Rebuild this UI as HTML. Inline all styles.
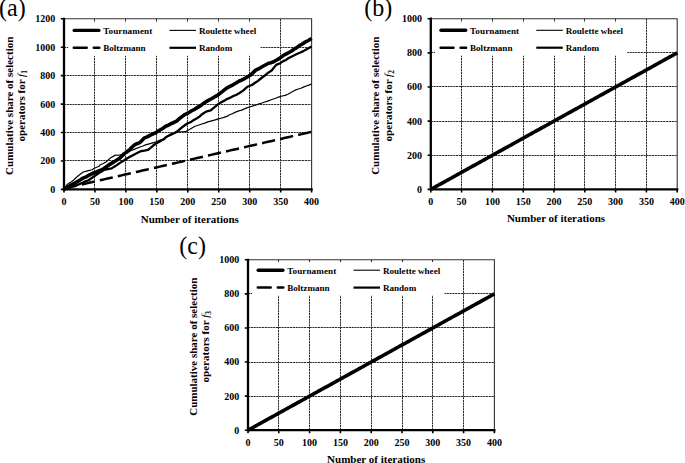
<!DOCTYPE html>
<html><head><meta charset="utf-8"><style>html,body{margin:0;padding:0;background:#fff;}svg{display:block;}</style></head>
<body><svg width="685" height="463" viewBox="0 0 685 463" font-family='"Liberation Serif", serif'><rect width="685" height="463" fill="#fff"/><path d="M94.5 18.8V189.4M125.5 18.8V189.4M156.5 18.8V189.4M187.5 18.8V189.4M218.5 18.8V189.4M249.5 18.8V189.4M280.5 18.8V189.4M64 160.5H311.6M64 132.5H311.6M64 104.5H311.6M64 75.5H311.6M64 47.5H311.6" stroke="#2b2b2b" stroke-width="1" stroke-dasharray="2.2 0.6" fill="none"/><rect x="68.2" y="22.3" width="192.3" height="33.5" fill="#fff"/><path d="M64 18.8H311.6V189.4" stroke="#333" stroke-width="1.1" fill="none"/><polyline points="64 189.4 67.71 187.69 70.2 187.12 72.69 186.55 75.18 185.98 77.67 185.41 80.16 184.84 82.65 184.27 85.13 183.7 87.62 183.13 90.11 182.56 92.6 181.99 95.09 181.42 97.58 180.85 100.07 180.28 102.55 179.71 105.04 179.14 107.53 178.57 110.02 178 112.51 177.43 115 176.86 117.49 176.29 119.98 175.72 122.46 175.15 124.95 174.58 127.44 174.01 129.93 173.44 132.42 172.87 134.91 172.3 137.4 171.73 139.88 171.16 142.37 170.59 144.86 170.02 147.35 169.45 149.84 168.88 152.33 168.31 154.82 167.74 157.3 167.17 159.79 166.6 162.28 166.03 164.77 165.46 167.26 164.89 169.75 164.32 172.24 163.75 174.73 163.18 177.21 162.61 179.7 162.04 182.19 161.47 184.68 160.9 187.17 160.33 189.66 159.76 192.15 159.19 194.63 158.62 197.12 158.05 199.61 157.48 202.1 156.91 204.59 156.34 207.08 155.77 209.57 155.2 212.05 154.63 214.54 154.06 217.03 153.49 219.52 152.92 222.01 152.35 224.5 151.78 226.99 151.21 229.48 150.64 231.96 150.07 234.45 149.5 236.94 148.93 239.43 148.36 241.92 147.79 244.41 147.22 246.9 146.65 249.38 146.08 251.87 145.51 254.36 144.94 256.85 144.37 259.34 143.79 261.83 143.22 264.32 142.65 266.8 142.08 269.29 141.51 271.78 140.94 274.27 140.37 276.76 139.8 279.25 139.23 281.74 138.66 284.23 138.09 286.71 137.52 289.2 136.95 291.69 136.38 294.18 135.81 296.67 135.24 299.16 134.67 301.65 134.1 304.13 133.53 306.62 132.96 309.11 132.39 311.6 131.82" stroke="#000" stroke-width="2.5" fill="none" stroke-linejoin="round" stroke-dasharray="13.3 5.2"/><polyline points="64 189.4 67.09 184.53 70.22 182.61 73.35 180.31 75.98 177.71 78.61 175.49 83.25 171.97 85.88 171.34 88.51 170.68 92.04 169.75 94.39 168.25 99.04 166.32 100.27 164.7 102.9 163.73 105.53 162.21 108.2 159.97 110.86 157.65 115.38 155.14 117.95 155.25 120.51 154.97 125.28 153.2 128.44 151.56 131.59 150.18 134.39 149.36 137.19 148.07 139.99 146.97 142.79 146.05 145.58 144.84 148.29 144.13 151 143.44 153.71 142.67 156.42 141.74 158.95 140.64 161.49 139.53 164.03 138.56 166.54 137.21 169.06 135.81 171.57 134.95 174.08 133.54 176.6 132.32 179.86 131.73 183.12 131.77 186.38 131.33 190.71 128.82 194.98 126.22 198.88 125.04 201.84 124.04 204.79 123.16 207.75 121.91 210.7 121.13 214.29 120.17 217.88 119.11 220.9 118.27 223.91 117.43 226.92 116.43 229.03 114.96 232.29 113.69 235.55 112.09 238.81 110.88 241.64 110.09 244.47 108.83 247.3 107.65 250.13 106.77 253.1 105.91 256.08 104.96 259.05 103.88 262.02 102.97 264.85 102.01 267.69 101.15 270.52 100.03 273.36 98.97 276.19 98.02 279.21 96.88 282.22 95.98 285.23 95.4 287.88 94.22 290.52 92.7 293.17 91.27 295.82 89.83 298.35 88.99 300.89 88.22 303.43 87.1 306.15 85.98 308.88 85.13 311.6 83.94" stroke="#000" stroke-width="1.2" fill="none" stroke-linejoin="round"/><polyline points="64 189.4 66.48 188.78 68.95 187.92 71.43 186.62 74.11 185.69 76.79 185.11 79.47 184.12 82.49 182.81 85.5 181.35 88.51 180.23 93.22 177.01 96.68 174.67 100.34 172.14 103.99 169.96 106.53 169.32 109.06 168.86 111.6 168.38 115.38 166.11 120.02 162.87 123.11 160.98 126.21 159.06 129.08 157.31 131.95 155.68 134.81 154.27 138.06 152.59 141.31 151.01 144.56 150.72 147.81 149.99 150.51 147.85 153.2 145.54 156.42 143.24 158.95 141.96 161.49 140.43 164.03 139.18 165.76 137.37 168.47 135.86 171.18 134.27 173.89 133.27 176.6 131.87 179.85 129.13 183.1 126.51 187.3 123.5 190.71 122.13 193.43 120.2 196.16 118.8 198.88 117.08 202.44 113.98 206 111.58 210.7 110.46 214.29 107.34 217.88 104.37 221.97 101.85 224.44 100.66 226.92 99.04 229.95 97.81 232.99 96.17 236.02 95.04 239.55 92.94 243.08 90.62 247.29 86.78 251.5 85.25 254.74 83.08 257.99 80.89 260.51 78.75 263.03 76.78 265.55 74.96 268.58 72.41 271.61 70.51 276.19 64.89 280.71 62.94 283.25 61.12 285.79 59.93 288.33 58.28 291.34 56.67 294.35 55.16 297.36 53.71 300.4 52.47 303.43 51.12 306.15 49.5 308.88 48.09 311.6 46.52" stroke="#000" stroke-width="2.3" fill="none" stroke-linejoin="round"/><polyline points="64 189.4 66.48 187.71 68.95 186.29 72.33 184.33 75.7 182.57 78.31 181.12 80.93 179.38 83.54 177.89 86.16 176.84 89.69 174.8 93.22 173.03 95.94 172.29 98.66 170.9 101.33 169.87 103.99 168.48 107.83 165.59 111.04 163.64 115.38 161.03 119.71 158.31 124.04 153.87 126.7 152.04 129.37 150.06 132.09 147.06 134.81 144.7 137.51 143.52 140.2 142.27 144.53 137.84 147.22 136.91 149.92 135.36 153.17 133.88 156.42 132.35 159.53 130.32 162.65 128.47 165.76 126.25 168.47 125.11 171.18 123.58 173.89 122.47 176.6 121.09 179.48 118.54 182.37 116.4 185.26 114.28 188.5 112.85 191.74 110.78 194.98 109.07 198.88 106.64 201.85 104.65 204.82 102.49 208.35 100.42 211.88 98.48 214.88 96.69 217.88 95.05 222.59 91.44 226.92 87.95 229.95 86.31 232.99 84.78 236.02 83.02 238.84 81.22 241.67 80.04 244.49 78.55 247.31 76.98 250.13 75.27 252.92 72.87 255.7 70.13 258.86 68.67 262.02 66.76 265.3 65 268.58 63.28 271.12 62.66 273.66 61.71 276.19 60.25 278.69 58.95 281.19 57.09 283.68 55.3 286.33 53.81 288.98 52.49 291.62 50.97 294.27 49 296.81 47.57 299.34 45.58 301.88 44.21 305.12 42.13 308.36 40.51 311.6 38.42" stroke="#000" stroke-width="3.6" fill="none" stroke-linejoin="round"/><path d="M64 18.8V189.4H311.6" stroke="#000" stroke-width="2.3" fill="none" stroke-linecap="square"/><path d="M60.8 189.4H64M60.8 160.97H64M60.8 132.53H64M60.8 104.1H64M60.8 75.67H64M60.8 47.23H64M60.8 18.8H64M64 189.4V192.4M94.95 189.4V192.4M125.9 189.4V192.4M156.85 189.4V192.4M187.8 189.4V192.4M218.75 189.4V192.4M249.7 189.4V192.4M280.65 189.4V192.4M311.6 189.4V192.4" stroke="#000" stroke-width="1.6" fill="none"/><text x="55.2" y="192.8" text-anchor="end" font-size="10" font-weight="bold">0</text><text x="55.2" y="164.37" text-anchor="end" font-size="10" font-weight="bold">200</text><text x="55.2" y="135.93" text-anchor="end" font-size="10" font-weight="bold">400</text><text x="55.2" y="107.5" text-anchor="end" font-size="10" font-weight="bold">600</text><text x="55.2" y="79.07" text-anchor="end" font-size="10" font-weight="bold">800</text><text x="55.2" y="50.63" text-anchor="end" font-size="10" font-weight="bold">1000</text><text x="55.2" y="22.2" text-anchor="end" font-size="10" font-weight="bold">1200</text><text x="64" y="204.8" text-anchor="middle" font-size="10" font-weight="bold">0</text><text x="94.95" y="204.8" text-anchor="middle" font-size="10" font-weight="bold">50</text><text x="125.9" y="204.8" text-anchor="middle" font-size="10" font-weight="bold">100</text><text x="156.85" y="204.8" text-anchor="middle" font-size="10" font-weight="bold">150</text><text x="187.8" y="204.8" text-anchor="middle" font-size="10" font-weight="bold">200</text><text x="218.75" y="204.8" text-anchor="middle" font-size="10" font-weight="bold">250</text><text x="249.7" y="204.8" text-anchor="middle" font-size="10" font-weight="bold">300</text><text x="280.65" y="204.8" text-anchor="middle" font-size="10" font-weight="bold">350</text><text x="311.6" y="204.8" text-anchor="middle" font-size="10" font-weight="bold">400</text><text x="189.8" y="223.2" text-anchor="middle" font-size="11" font-weight="bold">Number of iterations</text><text transform="translate(12.6 105.8) rotate(-90)" text-anchor="middle" font-size="11" font-weight="bold">Cumulative share of selection</text><text transform="translate(24.7 105.8) rotate(-90)" text-anchor="middle" font-size="11" font-weight="bold">operators for <tspan font-style="italic" font-weight="normal">f</tspan><tspan font-size="7.5" dy="2.2" font-weight="bold">1</tspan></text><path d="M74.2 30.4H98.9" stroke="#000" stroke-width="3.4" stroke-linecap="round"/><path d="M73.8 47.8H86.7M93.8 47.8H99.3" stroke="#000" stroke-width="2.5" stroke-linecap="round"/><path d="M169.5 30.4H196" stroke="#000" stroke-width="1.1"/><path d="M169.5 47.8H196" stroke="#000" stroke-width="2.2"/><text x="103.2" y="33.9" font-size="9.1" font-weight="bold" letter-spacing="0.1">Tournament</text><text x="103.2" y="51" font-size="9.1" font-weight="bold">Boltzmann</text><text x="198.9" y="33.9" font-size="9.1" font-weight="bold">Roulette wheel</text><text x="198.9" y="51" font-size="9.1" font-weight="bold">Random</text><path d="M461.5 18.7V189.4M492.5 18.7V189.4M523.5 18.7V189.4M554.5 18.7V189.4M584.5 18.7V189.4M615.5 18.7V189.4M646.5 18.7V189.4M430.8 155.5H677.2M430.8 121.5H677.2M430.8 86.5H677.2M430.8 52.5H677.2" stroke="#2b2b2b" stroke-width="1" stroke-dasharray="2.2 0.6" fill="none"/><rect x="435" y="22.2" width="192.3" height="33.5" fill="#fff"/><path d="M430.8 18.7H677.2V189.4" stroke="#333" stroke-width="1.1" fill="none"/><polyline points="430.8 189.4 433.26 188.03 435.73 186.67 438.19 185.3 440.66 183.94 443.12 182.57 445.58 181.21 448.05 179.84 450.51 178.48 452.98 177.11 455.44 175.74 457.9 174.38 460.37 173.01 462.83 171.65 465.3 170.28 467.76 168.92 470.22 167.55 472.69 166.18 475.15 164.82 477.62 163.45 480.08 162.09 482.54 160.72 485.01 159.36 487.47 157.99 489.94 156.63 492.4 155.26 494.86 153.89 497.33 152.53 499.79 151.16 502.26 149.8 504.72 148.43 507.18 147.07 509.65 145.7 512.11 144.34 514.58 142.97 517.04 141.6 519.5 140.24 521.97 138.87 524.43 137.51 526.9 136.14 529.36 134.78 531.82 133.41 534.29 132.04 536.75 130.68 539.22 129.31 541.68 127.95 544.14 126.58 546.61 125.22 549.07 123.85 551.54 122.49 554 121.12 556.46 119.75 558.93 118.39 561.39 117.02 563.86 115.66 566.32 114.29 568.78 112.93 571.25 111.56 573.71 110.2 576.18 108.83 578.64 107.46 581.1 106.1 583.57 104.73 586.03 103.37 588.5 102 590.96 100.64 593.42 99.27 595.89 97.9 598.35 96.54 600.82 95.17 603.28 93.81 605.74 92.44 608.21 91.08 610.67 89.71 613.14 88.35 615.6 86.98 618.06 85.61 620.53 84.25 622.99 82.88 625.46 81.52 627.92 80.15 630.38 78.79 632.85 77.42 635.31 76.06 637.78 74.69 640.24 73.32 642.7 71.96 645.17 70.59 647.63 69.23 650.1 67.86 652.56 66.5 655.02 65.13 657.49 63.76 659.95 62.4 662.42 61.03 664.88 59.67 667.34 58.3 669.81 56.94 672.27 55.57 674.74 54.21 677.2 52.84" stroke="#000" stroke-width="3.6" fill="none" stroke-linejoin="round"/><path d="M430.8 18.7V189.4H677.2" stroke="#000" stroke-width="2.3" fill="none" stroke-linecap="square"/><path d="M427.6 189.4H430.8M427.6 155.26H430.8M427.6 121.12H430.8M427.6 86.98H430.8M427.6 52.84H430.8M427.6 18.7H430.8M430.8 189.4V192.4M461.6 189.4V192.4M492.4 189.4V192.4M523.2 189.4V192.4M554 189.4V192.4M584.8 189.4V192.4M615.6 189.4V192.4M646.4 189.4V192.4M677.2 189.4V192.4" stroke="#000" stroke-width="1.6" fill="none"/><text x="422" y="192.8" text-anchor="end" font-size="10" font-weight="bold">0</text><text x="422" y="158.66" text-anchor="end" font-size="10" font-weight="bold">200</text><text x="422" y="124.52" text-anchor="end" font-size="10" font-weight="bold">400</text><text x="422" y="90.38" text-anchor="end" font-size="10" font-weight="bold">600</text><text x="422" y="56.24" text-anchor="end" font-size="10" font-weight="bold">800</text><text x="422" y="22.1" text-anchor="end" font-size="10" font-weight="bold">1000</text><text x="430.8" y="204.8" text-anchor="middle" font-size="10" font-weight="bold">0</text><text x="461.6" y="204.8" text-anchor="middle" font-size="10" font-weight="bold">50</text><text x="492.4" y="204.8" text-anchor="middle" font-size="10" font-weight="bold">100</text><text x="523.2" y="204.8" text-anchor="middle" font-size="10" font-weight="bold">150</text><text x="554" y="204.8" text-anchor="middle" font-size="10" font-weight="bold">200</text><text x="584.8" y="204.8" text-anchor="middle" font-size="10" font-weight="bold">250</text><text x="615.6" y="204.8" text-anchor="middle" font-size="10" font-weight="bold">300</text><text x="646.4" y="204.8" text-anchor="middle" font-size="10" font-weight="bold">350</text><text x="677.2" y="204.8" text-anchor="middle" font-size="10" font-weight="bold">400</text><text x="556" y="222" text-anchor="middle" font-size="11" font-weight="bold">Number of iterations</text><text transform="translate(379.4 105.75) rotate(-90)" text-anchor="middle" font-size="11" font-weight="bold">Cumulative share of selection</text><text transform="translate(391.5 105.75) rotate(-90)" text-anchor="middle" font-size="11" font-weight="bold">operators for <tspan font-style="italic" font-weight="normal">f</tspan><tspan font-size="7.5" dy="2.2" font-weight="bold">2</tspan></text><path d="M441 30.3H465.7" stroke="#000" stroke-width="3.4" stroke-linecap="round"/><path d="M440.6 47.7H453.5M460.6 47.7H466.1" stroke="#000" stroke-width="2.5" stroke-linecap="round"/><path d="M536.3 30.3H562.8" stroke="#000" stroke-width="1.1"/><path d="M536.3 47.7H562.8" stroke="#000" stroke-width="2.2"/><text x="470" y="33.8" font-size="9.1" font-weight="bold" letter-spacing="0.1">Tournament</text><text x="470" y="50.9" font-size="9.1" font-weight="bold">Boltzmann</text><text x="565.7" y="33.8" font-size="9.1" font-weight="bold">Roulette wheel</text><text x="565.7" y="50.9" font-size="9.1" font-weight="bold">Random</text><path d="M278.5 259.8V430.2M309.5 259.8V430.2M340.5 259.8V430.2M371.5 259.8V430.2M402.5 259.8V430.2M432.5 259.8V430.2M463.5 259.8V430.2M248 396.5H494.4M248 362.5H494.4M248 327.5H494.4M248 293.5H494.4" stroke="#2b2b2b" stroke-width="1" stroke-dasharray="2.2 0.6" fill="none"/><rect x="252.2" y="262.1" width="192.3" height="33.5" fill="#fff"/><path d="M248 259.8H494.4V430.2" stroke="#333" stroke-width="1.1" fill="none"/><polyline points="248 430.2 250.46 428.84 252.93 427.47 255.39 426.11 257.86 424.75 260.32 423.38 262.78 422.02 265.25 420.66 267.71 419.29 270.18 417.93 272.64 416.57 275.1 415.2 277.57 413.84 280.03 412.48 282.5 411.12 284.96 409.75 287.42 408.39 289.89 407.03 292.35 405.66 294.82 404.3 297.28 402.94 299.74 401.57 302.21 400.21 304.67 398.85 307.14 397.48 309.6 396.12 312.06 394.76 314.53 393.39 316.99 392.03 319.46 390.67 321.92 389.3 324.38 387.94 326.85 386.58 329.31 385.21 331.78 383.85 334.24 382.49 336.7 381.12 339.17 379.76 341.63 378.4 344.1 377.04 346.56 375.67 349.02 374.31 351.49 372.95 353.95 371.58 356.42 370.22 358.88 368.86 361.34 367.49 363.81 366.13 366.27 364.77 368.74 363.4 371.2 362.04 373.66 360.68 376.13 359.31 378.59 357.95 381.06 356.59 383.52 355.22 385.98 353.86 388.45 352.5 390.91 351.13 393.38 349.77 395.84 348.41 398.3 347.04 400.77 345.68 403.23 344.32 405.7 342.96 408.16 341.59 410.62 340.23 413.09 338.87 415.55 337.5 418.02 336.14 420.48 334.78 422.94 333.41 425.41 332.05 427.87 330.69 430.34 329.32 432.8 327.96 435.26 326.6 437.73 325.23 440.19 323.87 442.66 322.51 445.12 321.14 447.58 319.78 450.05 318.42 452.51 317.05 454.98 315.69 457.44 314.33 459.9 312.96 462.37 311.6 464.83 310.24 467.3 308.88 469.76 307.51 472.22 306.15 474.69 304.79 477.15 303.42 479.62 302.06 482.08 300.7 484.54 299.33 487.01 297.97 489.47 296.61 491.94 295.24 494.4 293.88" stroke="#000" stroke-width="3.6" fill="none" stroke-linejoin="round"/><path d="M248 259.8V430.2H494.4" stroke="#000" stroke-width="2.3" fill="none" stroke-linecap="square"/><path d="M244.8 430.2H248M244.8 396.12H248M244.8 362.04H248M244.8 327.96H248M244.8 293.88H248M244.8 259.8H248M248 430.2V433.2M278.8 430.2V433.2M309.6 430.2V433.2M340.4 430.2V433.2M371.2 430.2V433.2M402 430.2V433.2M432.8 430.2V433.2M463.6 430.2V433.2M494.4 430.2V433.2" stroke="#000" stroke-width="1.6" fill="none"/><text x="239.2" y="433.6" text-anchor="end" font-size="10" font-weight="bold">0</text><text x="239.2" y="399.52" text-anchor="end" font-size="10" font-weight="bold">200</text><text x="239.2" y="365.44" text-anchor="end" font-size="10" font-weight="bold">400</text><text x="239.2" y="331.36" text-anchor="end" font-size="10" font-weight="bold">600</text><text x="239.2" y="297.28" text-anchor="end" font-size="10" font-weight="bold">800</text><text x="239.2" y="263.2" text-anchor="end" font-size="10" font-weight="bold">1000</text><text x="248" y="445.6" text-anchor="middle" font-size="10" font-weight="bold">0</text><text x="278.8" y="445.6" text-anchor="middle" font-size="10" font-weight="bold">50</text><text x="309.6" y="445.6" text-anchor="middle" font-size="10" font-weight="bold">100</text><text x="340.4" y="445.6" text-anchor="middle" font-size="10" font-weight="bold">150</text><text x="371.2" y="445.6" text-anchor="middle" font-size="10" font-weight="bold">200</text><text x="402" y="445.6" text-anchor="middle" font-size="10" font-weight="bold">250</text><text x="432.8" y="445.6" text-anchor="middle" font-size="10" font-weight="bold">300</text><text x="463.6" y="445.6" text-anchor="middle" font-size="10" font-weight="bold">350</text><text x="494.4" y="445.6" text-anchor="middle" font-size="10" font-weight="bold">400</text><text x="376.2" y="462.5" text-anchor="middle" font-size="11" font-weight="bold">Number of iterations</text><text transform="translate(196.6 346.7) rotate(-90)" text-anchor="middle" font-size="11" font-weight="bold">Cumulative share of selection</text><text transform="translate(208.7 346.7) rotate(-90)" text-anchor="middle" font-size="11" font-weight="bold">operators for <tspan font-style="italic" font-weight="normal">f</tspan><tspan font-size="7.5" dy="2.2" font-weight="bold">3</tspan></text><path d="M258.2 270.2H282.9" stroke="#000" stroke-width="3.4" stroke-linecap="round"/><path d="M257.8 287.6H270.7M277.8 287.6H283.3" stroke="#000" stroke-width="2.5" stroke-linecap="round"/><path d="M353.5 270.2H380" stroke="#000" stroke-width="1.1"/><path d="M353.5 287.6H380" stroke="#000" stroke-width="2.2"/><text x="287.2" y="273.7" font-size="9.1" font-weight="bold" letter-spacing="0.1">Tournament</text><text x="287.2" y="290.8" font-size="9.1" font-weight="bold">Boltzmann</text><text x="382.9" y="273.7" font-size="9.1" font-weight="bold">Roulette wheel</text><text x="382.9" y="290.8" font-size="9.1" font-weight="bold">Random</text><text transform="translate(-1 16.4) scale(0.96 1)" font-size="25">(a)</text><text transform="translate(364.3 16) scale(0.96 1)" font-size="25">(b)</text><text transform="translate(179.3 254.3) scale(0.96 1)" font-size="25">(c)</text></svg></body></html>
